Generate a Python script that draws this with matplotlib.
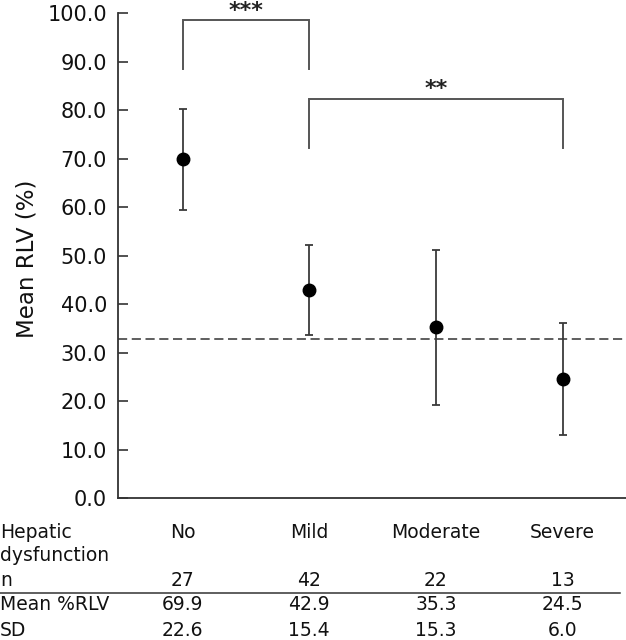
import matplotlib
matplotlib.use("Agg")
import matplotlib.pyplot as plt
from matplotlib.transforms import blended_transform_factory

plt.rcParams['font.family'] = ['DejaVu Sans']

categories = ["No", "Mild", "Moderate", "Severe"]
n_values = ["27", "42", "22", "13"]
mean_labels = ["69.9", "42.9", "35.3", "24.5"]
sd_labels = ["22.6", "15.4", "15.3", "6.0"]
means = [69.9, 42.9, 35.3, 24.5]
err_low = [59.5, 33.7, 19.3, 13.1]
err_high = [80.3, 52.3, 51.1, 36.1]
reference_line = 32.8
yticks = [0, 10, 20, 30, 40, 50, 60, 70, 80, 90, 100]
ytick_labels = ["0.0", "10.0", "20.0", "30.0", "40.0", "50.0", "60.0", "70.0", "80.0", "90.0", "100.0"]
# significance brackets: (from index, to index, bar height, leg bottom, label)
brackets = [(0, 1, 98.6, 88.5, "***"), (1, 3, 82.3, 72.3, "**")]
star_baselines = [99.2, 83.2]

W, H = 626, 640
fig = plt.figure(figsize=(W / 100, H / 100), dpi=100)
ax = fig.add_axes([118 / W, 1 - 498.3 / H, 1 - 118 / W, (498.3 - 13.3) / H])

x = list(range(len(categories)))
lower = [m - l for m, l in zip(means, err_low)]
upper = [h - m for m, h in zip(means, err_high)]
ax.errorbar(x, means, yerr=[lower, upper], fmt='o', color='black', ms=9,
            ecolor='#3a3a3a', elinewidth=1.3, capsize=3.2, capthick=1.3, zorder=3)
ax.axhline(reference_line, color='#333333', lw=1.1, dashes=(6, 3), zorder=2)

for (i0, i1, top, leg, lab), sb in zip(brackets, star_baselines):
    ax.plot([i0, i0, i1, i1], [leg, top, top, leg], color='#555555', lw=1.4,
            clip_on=False, solid_joinstyle='miter')
    ax.text((i0 + i1) / 2, sb, lab, ha='center', va='baseline', fontweight='bold',
            fontsize=16, color='#222222', clip_on=False)

ax.set_xlim(-0.51, 3.5)
ax.set_ylim(0, 100)
ax.set_yticks(yticks)
ax.set_yticklabels(ytick_labels)
ax.set_xticks([])
ax.tick_params(axis='y', direction='in', length=7, width=1.2, pad=8,
               labelsize=15, colors='#333333', labelcolor='#111111')
for s in ['top', 'right']:
    ax.spines[s].set_visible(False)
for s in ['left', 'bottom']:
    ax.spines[s].set_color('#333333')
    ax.spines[s].set_linewidth(1.3)

def fy(py):
    return 1 - py / H

fig.text(27 / W, fy(258.5), "Mean RLV (%)", rotation=90, ha='center', va='center',
         fontsize=16.5, color='#111111')

# table below
trans = blended_transform_factory(ax.transData, fig.transFigure)
tsize = 13.5
fig.text(0.0, fy(532), "Hepatic", ha='left', va='center', fontsize=tsize, color='#111111')
fig.text(0.0, fy(555.7), "dysfunction", ha='left', va='center', fontsize=tsize, color='#111111')
fig.text(0.0, fy(580), "n", ha='left', va='center', fontsize=tsize, color='#111111')
fig.text(0.0, fy(605), "Mean %RLV", ha='left', va='center', fontsize=tsize, color='#111111')
fig.text(0.0, fy(630), "SD", ha='left', va='center', fontsize=tsize, color='#111111')
for i, (c, nv, mv, sv) in enumerate(zip(categories, n_values, mean_labels, sd_labels)):
    fig.text(i, fy(532), c, transform=trans, ha='center', va='center', fontsize=tsize, color='#111111')
    fig.text(i, fy(580), nv, transform=trans, ha='center', va='center', fontsize=tsize, color='#111111')
    fig.text(i, fy(605), mv, transform=trans, ha='center', va='center', fontsize=tsize, color='#111111')
    fig.text(i, fy(630), sv, transform=trans, ha='center', va='center', fontsize=tsize, color='#111111')
fig.add_artist(plt.Line2D([0, 620 / W], [fy(593), fy(593)], transform=fig.transFigure,
                          color='#333333', lw=1.1))

fig.savefig("out.png", dpi=100)
